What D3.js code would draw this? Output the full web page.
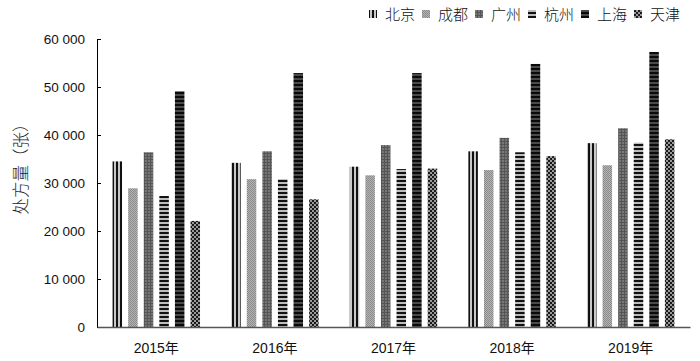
<!DOCTYPE html>
<html><head><meta charset="utf-8">
<script src="https://cdn.jsdelivr.net/npm/d3@7"></script>
<style>body{margin:0;background:#fff}svg{display:block}</style>
</head><body>
<svg id="c" width="700" height="361"></svg>
<script>
const years = ["2015年","2016年","2017年","2018年","2019年"];
const cities = ["北京","成都","广州","杭州","上海","天津"];
const beijing  = [34500, 34200, 33400, 36600, 38300];
const chengdu  = [28900, 30800, 31600, 32700, 33700];
const guangzhou= [36400, 36600, 37900, 39400, 41400];
const hangzhou = [27300, 30800, 32900, 36400, 38400];
const shanghai = [49100, 52900, 52900, 54800, 57300];
const tianjin  = [22100, 26600, 33000, 35600, 39100];
const yTicks = [0, 10000, 20000, 30000, 40000, 50000, 60000];
const series = [beijing, chengdu, guangzhou, hangzhou, shanghai, tianjin];

(function(){
const svg = d3.select("#c");
const defs = svg.append("defs");
function pat(id, w, h, bg, rects){
  const p = defs.append("pattern").attr("id", id).attr("patternUnits","userSpaceOnUse").attr("width", w).attr("height", h);
  p.append("rect").attr("width", w).attr("height", h).attr("fill", bg);
  rects.forEach(r => p.append("rect").attr("x", r[0]).attr("y", r[1]).attr("width", r[2]).attr("height", r[3]).attr("fill", r[4]));
}
pat("p0", 4, 4, "#c8c8c8", [[0,0,2,4,"#111"]]);
pat("p1", 2, 2, "#b4b4b4", [[0,0,1,1,"#8a8a8a"],[1,1,1,1,"#8a8a8a"]]);
pat("p2", 3, 3, "#777", [[0,0,1,3,"#555"],[0,0,3,1,"#555"]]);
pat("p3", 4, 4, "#bdbdbd", [[0,0,4,2,"#111"]]);
pat("p4", 4, 4, "#4a4a4a", [[0,0,4,2,"#0a0a0a"]]);
pat("p5", 4, 4, "#999", [[0,0,2,2,"#1a1a1a"],[2,2,2,2,"#1a1a1a"]]);

const mLeft = 97, mRight = 690, mTop = 39, mBottom = 327;
const y = d3.scaleLinear().domain([0, 60000]).range([mBottom, mTop]);
const x0 = d3.scaleBand().domain(years).range([mLeft, mRight]);
const x1 = d3.scaleBand().domain(cities).range([0, x0.bandwidth()]).paddingInner(0.39).paddingOuter(1.0);

const g = svg.append("g");
years.forEach((yr, i) => {
  cities.forEach((c, j) => {
    const v = series[j][i];
    g.append("rect")
      .attr("x", x0(yr) + x1(c))
      .attr("y", y(v))
      .attr("width", x1.bandwidth())
      .attr("height", y(0) - y(v))
      .attr("fill", "url(#p" + j + ")");
  });
});

const yAxis = d3.axisLeft(y).tickValues(yTicks).tickSizeInner(-4).tickSizeOuter(0)
  .tickPadding(12).tickFormat(d => d === 0 ? "0" : d3.format(",")(d).replace(/,/g, " "));
const ya = svg.append("g").attr("transform", `translate(${mLeft},0)`).call(yAxis);
ya.select(".domain").attr("stroke", "#000").attr("stroke-width", 1);
ya.selectAll(".tick line").attr("stroke", "#000");
ya.selectAll("text").attr("font-family", "Liberation Sans, Arial, sans-serif").attr("font-size", 13.5).attr("fill", "#111");

const xAxis = d3.axisBottom(x0).tickSize(0).tickPadding(16);
const xa = svg.append("g").attr("transform", `translate(0,${mBottom})`).call(xAxis);
xa.select(".domain").attr("stroke", "#555").attr("stroke-width", 1.5);
xa.selectAll("text").attr("font-family", "Liberation Sans, 'Noto Sans CJK SC', sans-serif").attr("font-size", 14).attr("fill", "#111");

svg.append("text").attr("transform", "translate(27,165) rotate(-90)")
  .attr("text-anchor", "middle").attr("font-family", "'Noto Sans CJK SC', sans-serif")
  .attr("font-size", 16.5).attr("font-weight", 300).attr("fill", "#222").text("处方量（张）");

const lg = svg.append("g");
cities.forEach((c, j) => {
  const lx = 369 + j * 53;
  lg.append("rect").attr("x", lx).attr("y", 10).attr("width", 8).attr("height", 8).attr("fill", "url(#p" + j + ")");
  lg.append("text").attr("x", lx + 16).attr("y", 20).attr("font-family", "'Noto Sans CJK SC', sans-serif")
    .attr("font-size", 15).attr("font-weight", 300).attr("fill", "#111").text(c);
});
})();
</script>
</body></html>
